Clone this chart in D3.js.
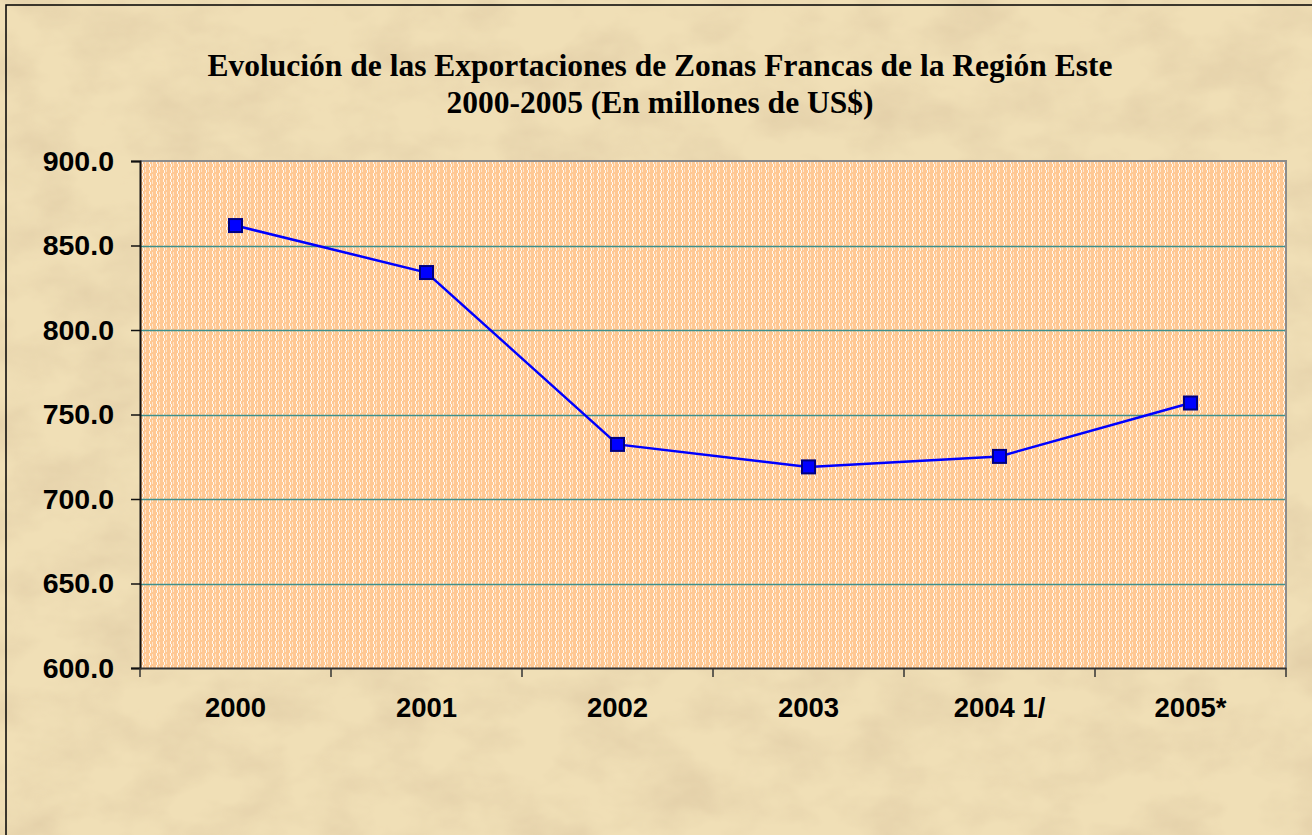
<!DOCTYPE html>
<html>
<head>
<meta charset="utf-8">
<script src="https://cdnjs.cloudflare.com/ajax/libs/d3/7.8.5/d3.min.js"></script>
<style>
  html, body { margin: 0; padding: 0; background: #f0dfb6; overflow: hidden; }
</style>
</head>
<body>
<div id="chart"></div>
<script>
// data
var categories = ['2000', '2001', '2002', '2003', '2004 1/', '2005*'];
var exportValues = [861.8, 834.0, 732.3, 719.0, 725.2, 756.8];
var yTicks = [600, 650, 700, 750, 800, 850, 900];
var titleLines = [
    'Evolución de las Exportaciones de Zonas Francas de la Región Este',
    '2000-2005 (En millones de US$)'
];

var attrs = {
    svgWidth: 1312,
    svgHeight: 835,
    plotLeft: 140,
    plotTop: 161,
    plotRight: 1286,
    plotBottom: 668,
    paper: '#f0dfb6',
    plotFill: '#ffc893',
    gridColor: '#3f908c',
    lineColor: '#0000ff',
    markerStroke: '#000080',
    labelFont: '"Liberation Sans", Arial, sans-serif',
    titleFont: '"Liberation Serif", "Times New Roman", serif'
};

var svg = d3.select('#chart').append('svg')
    .attr('width', attrs.svgWidth)
    .attr('height', attrs.svgHeight);

var defs = svg.append('defs');

// parchment texture
var f = defs.append('filter').attr('id', 'paper')
    .attr('x', 0).attr('y', 0).attr('width', '100%').attr('height', '100%');
f.append('feTurbulence')
    .attr('type', 'fractalNoise')
    .attr('baseFrequency', '0.014 0.022')
    .attr('numOctaves', 4)
    .attr('seed', 7)
    .attr('result', 'noise');
f.append('feColorMatrix')
    .attr('in', 'noise')
    .attr('type', 'matrix')
    .attr('values', '0 0 0 0 0.6  0 0 0 0 0.45  0 0 0 0 0.28  0 0 0 0.6 -0.22')
    .attr('result', 'tint');
f.append('feComposite').attr('in', 'tint').attr('in2', 'SourceGraphic').attr('operator', 'in');

// plot fill pattern: peach with white dashed vertical stripes
var pat = defs.append('pattern').attr('id', 'stripes')
    .attr('patternUnits', 'userSpaceOnUse')
    .attr('x', attrs.plotLeft).attr('y', attrs.plotTop)
    .attr('width', 7).attr('height', 6);
pat.append('rect').attr('width', 7).attr('height', 6).attr('fill', attrs.plotFill);
pat.append('rect').attr('x', 2).attr('y', 0).attr('width', 1).attr('height', 3).attr('fill', '#fff8ee');
pat.append('rect').attr('x', 3).attr('y', 3).attr('width', 1).attr('height', 3).attr('fill', '#fff8ee');
pat.append('rect').attr('x', 5).attr('y', 1).attr('width', 1).attr('height', 4).attr('fill', '#ffe4c8');

// background
svg.append('rect').attr('width', attrs.svgWidth).attr('height', attrs.svgHeight).attr('fill', attrs.paper);
svg.append('rect').attr('width', attrs.svgWidth).attr('height', attrs.svgHeight)
    .attr('fill', '#ffffff').attr('filter', 'url(#paper)');

// outer chart frame (only top and left edges visible)
svg.append('rect')
    .attr('x', 6).attr('y', 5)
    .attr('width', 1400).attr('height', 900)
    .attr('fill', 'none')
    .attr('stroke', '#000')
    .attr('stroke-width', 1.5);

// title
svg.append('g').selectAll('text').data(titleLines).enter().append('text')
    .attr('x', 660)
    .attr('y', (d, i) => 76 + i * 37)
    .attr('text-anchor', 'middle')
    .attr('font-family', attrs.titleFont)
    .attr('font-weight', 'bold')
    .attr('font-size', 31.5)
    .attr('fill', '#000')
    .text(d => d);

// scales
var x = d3.scaleBand()
    .domain(categories)
    .range([attrs.plotLeft, attrs.plotRight]);

var y = d3.scaleLinear()
    .domain([600, 900])
    .range([attrs.plotBottom, attrs.plotTop]);

// plot area
svg.append('rect')
    .attr('x', attrs.plotLeft).attr('y', attrs.plotTop)
    .attr('width', attrs.plotRight - attrs.plotLeft)
    .attr('height', attrs.plotBottom - attrs.plotTop)
    .attr('fill', 'url(#stripes)');

// gridlines (snapped to pixel rows)
svg.append('g').selectAll('line').data(yTicks.slice(1, -1)).enter().append('line')
    .attr('x1', attrs.plotLeft).attr('x2', attrs.plotRight)
    .attr('y1', d => Math.round(y(d)) + 0.5).attr('y2', d => Math.round(y(d)) + 0.5)
    .attr('stroke', attrs.gridColor)
    .attr('stroke-width', 1.3);

// top and right plot border
svg.append('path')
    .attr('d', 'M' + attrs.plotLeft + ',' + attrs.plotTop + 'H' + attrs.plotRight + 'V' + attrs.plotBottom)
    .attr('fill', 'none')
    .attr('stroke', '#8c8c8c')
    .attr('stroke-width', 2);

// y axis
var yAxis = svg.append('g')
    .attr('transform', 'translate(' + attrs.plotLeft + ',0)')
    .call(d3.axisLeft(y).tickValues(yTicks).tickFormat(d3.format('.1f')).tickSizeOuter(0).tickSize(9).tickPadding(17));
yAxis.select('.domain').attr('stroke', '#111').attr('stroke-width', 2);
yAxis.selectAll('.tick line').attr('stroke', '#111').attr('stroke-width', 1.5);
yAxis.selectAll('.tick text')
    .attr('font-family', attrs.labelFont)
    .attr('font-weight', 'bold')
    .attr('font-size', 28.5)
    .attr('fill', '#000');

// x axis
var xAxis = svg.append('g')
    .attr('transform', 'translate(0,' + attrs.plotBottom + ')')
    .call(d3.axisBottom(x).tickSize(0).tickPadding(29));
xAxis.select('.domain').attr('stroke', '#333').attr('stroke-width', 2);
xAxis.selectAll('.tick text')
    .attr('font-family', attrs.labelFont)
    .attr('font-weight', 'bold')
    .attr('font-size', 27.5)
    .attr('fill', '#000');

// category separator ticks
var edges = categories.map(c => x(c)).concat([attrs.plotRight]);
xAxis.selectAll('.sep').data(edges).enter().append('line')
    .attr('class', 'sep')
    .attr('x1', d => d).attr('x2', d => d)
    .attr('y1', 0).attr('y2', 9)
    .attr('stroke', '#333')
    .attr('stroke-width', 1.5);

// series line
var line = d3.line()
    .x((d, i) => x(categories[i]) + x.bandwidth() / 2)
    .y(d => y(d));

svg.append('path')
    .datum(exportValues)
    .attr('d', line)
    .attr('fill', 'none')
    .attr('stroke', attrs.lineColor)
    .attr('stroke-width', 2.5);

// markers
var ms = 13;
svg.append('g').selectAll('rect').data(exportValues).enter().append('rect')
    .attr('x', (d, i) => x(categories[i]) + x.bandwidth() / 2 - ms / 2)
    .attr('y', d => y(d) - ms / 2)
    .attr('width', ms).attr('height', ms)
    .attr('fill', '#0000ff')
    .attr('stroke', attrs.markerStroke)
    .attr('stroke-width', 2);
</script>
</body>
</html>
